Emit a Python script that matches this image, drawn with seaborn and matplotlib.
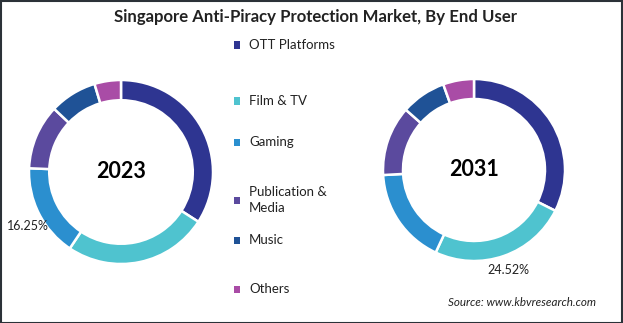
import matplotlib
matplotlib.use("Agg")
import matplotlib.pyplot as plt
import seaborn as sns
from matplotlib.patches import Rectangle

categories = ["OTT Platforms", "Film & TV", "Gaming", "Publication &\nMedia", "Music", "Others"]
values_2023 = [34.1, 25.3, 16.25, 11.4, 8.3, 4.65]
values_2031 = [32.4, 24.52, 17.2, 12.4, 8.0, 5.48]
colors = ["#2E3591", "#4FC3CF", "#2B8FCF", "#5B4A9E", "#1F5296", "#A94CA6"]
years = ["2023", "2031"]

sns.set_theme(style="white")
plt.rcParams['font.family'] = ['Lato', 'DejaVu Sans']

W, H = 623, 323
fig = plt.figure(figsize=(W / 100, H / 100), dpi=100)
fig.patch.set_facecolor("white")

def donut(cx, cy, r, vals, year):
    ax = fig.add_axes([(cx - r) / W, (H - cy - r) / H, 2 * r / W, 2 * r / H])
    ax.pie(vals, colors=colors, startangle=90, counterclock=False, radius=1,
           wedgeprops=dict(width=0.22, edgecolor="white", linewidth=1.8))
    ax.set_xlim(-1, 1)
    ax.set_ylim(-1, 1)
    ax.set_aspect("auto")
    ax.axis("off")
    ax.text(0, 0, year, ha="center", va="center", fontsize=15.5, fontweight="bold", color="black")
    return ax

donut(121, 172, 92, values_2023, years[0])
donut(474, 170, 91, values_2031, years[1])

fig.text(315 / W, 1 - 17 / H, "Singapore Anti-Piracy Protection Market, By End User",
         ha="center", va="center", fontsize=12.1, fontweight="bold", color="#222222")

# percentage labels
fig.text(28 / W, 1 - 226 / H, f"{values_2023[2]:.2f}%", ha="center", va="center", fontsize=9, color="#222222")
fig.text(508 / W, 1 - 270 / H, f"{values_2031[1]:.2f}%", ha="center", va="center", fontsize=9, color="#222222")

# legend
leg_y = [45, 101, 142, 200, 240, 289]
for lab, col, y in zip(categories, colors, leg_y):
    fig.patches.append(Rectangle(((237 - 3.5) / W, 1 - (y + 3.5) / H), 7 / W, 7 / H,
                                 transform=fig.transFigure, facecolor=col, edgecolor="none"))
    fig.text(249 / W, 1 - y / H, lab, ha="left", va="center", fontsize=9.5, color="#222222",
             linespacing=1.35)

fig.text(522 / W, 1 - 303 / H, "Source: www.kbvresearch.com", ha="center", va="center",
         fontsize=8.4, style="italic", color="#222222")

fig.patches.append(Rectangle((0.5 / W, 0.5 / H), 1 - 1.5 / W, 1 - 1.5 / H, transform=fig.transFigure,
                             facecolor="none", edgecolor="#2b3238", linewidth=1.5))

fig.savefig("out.png", dpi=100)
